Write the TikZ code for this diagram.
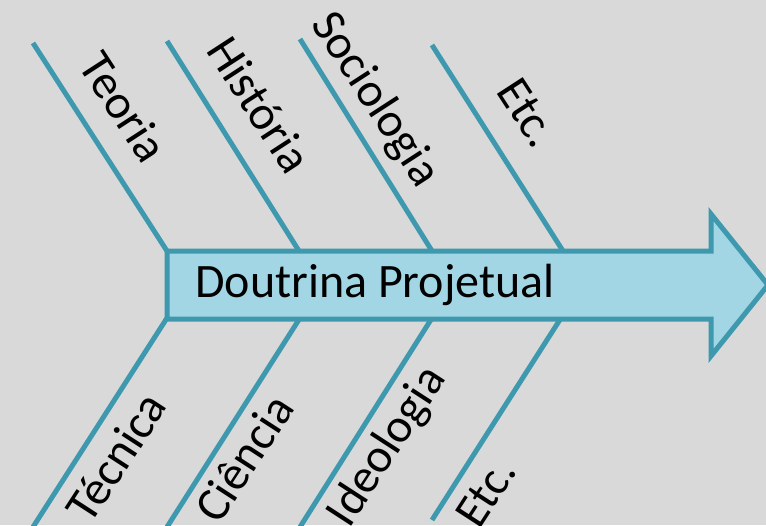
\documentclass[tikz,border=0pt]{standalone}
\usepackage{fontspec}
\setmainfont{Carlito}

\definecolor{bonecol}{HTML}{3E99AE}
\definecolor{spinefill}{HTML}{A3D6E5}
\definecolor{bggray}{HTML}{D9D9D9}

\begin{document}
\begin{tikzpicture}[
    x=1pt, y=-1pt,
    every node/.style={font=\fontsize{48}{52}\selectfont, inner sep=0pt},
    bone/.style={draw=bonecol, line width=5pt},
    causeup/.style={rotate=-57},
    causedown/.style={rotate=57}
]

    % ---- Background ----
    \fill[bggray] (0,0) rectangle (766,525);
    \useasboundingbox (0,0) rectangle (766,525);

    % ---- Bone ends ----
    \coordinate (teoT) at (33,43);     \coordinate (teoB) at (167,251);
    \coordinate (hisT) at (167,41);    \coordinate (hisB) at (299,251);
    \coordinate (socT) at (300,39);    \coordinate (socB) at (432,251);
    \coordinate (etcT) at (432,45);    \coordinate (etcB) at (563,251);

    \coordinate (tecT) at (167,318);   \coordinate (tecB) at (33,527);
    \coordinate (cieT) at (300,318);   \coordinate (cieB) at (167,527);
    \coordinate (ideT) at (432,318);   \coordinate (ideB) at (300,527);
    \coordinate (etc2T) at (561,318);  \coordinate (etc2B) at (432,520);

    % ---- Bones ----
    \draw[bone] (teoT) -- (teoB);
    \draw[bone] (hisT) -- (hisB);
    \draw[bone] (socT) -- (socB);
    \draw[bone] (etcT) -- (etcB);
    \draw[bone] (tecT) -- (tecB);
    \draw[bone] (cieT) -- (cieB);
    \draw[bone] (ideT) -- (ideB);
    \draw[bone] (etc2T) -- (etc2B);

    % ---- Spine ----
    \draw[draw=bonecol, fill=spinefill, line width=5pt, line join=miter]
        (167,251) -- (711,251) -- (711,214) -- (768,285)
        -- (711,356) -- (711,319) -- (167,319) -- cycle;
    \node[anchor=base west] (spine) at (195,297) {Doutrina Projetual};

    % ---- Causes ----
    \node[causeup] (teoria) at (124,107) {Teoria};
    \node[causeup] (historia) at (260,105) {História};
    \node[causeup] (sociologia) at (375,100) {Sociologia};
    \node[causeup] (etcup) at (528,113) {Etc.};

    \node[causedown] (tecnica) at (116,457) {Técnica};
    \node[causedown] (ciencia) at (244,458) {Ciência};
    \node[causedown] (ideologia) at (388,447) {Ideologia};
    \node[causedown] (etcdown) at (486,493) {Etc.};

\end{tikzpicture}
\end{document}
